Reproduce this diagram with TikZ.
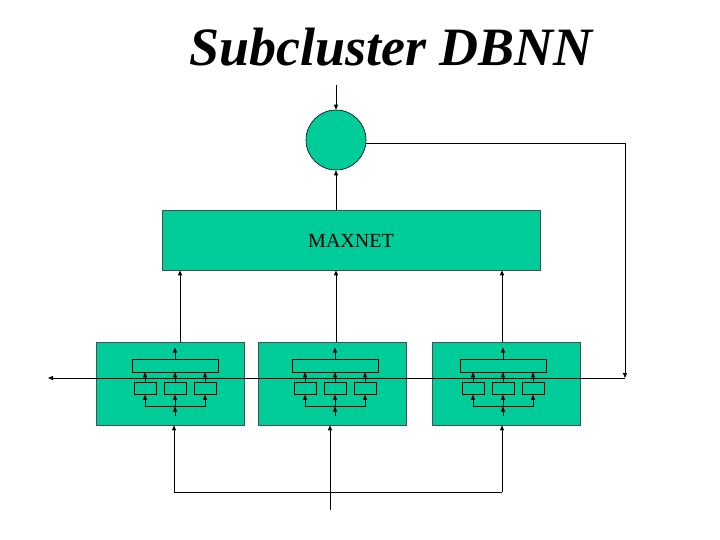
\documentclass[tikz,border=0pt]{standalone}
\usepackage{fontspec}
\setmainfont{Liberation Serif}
\usetikzlibrary{arrows.meta}
\definecolor{tg}{HTML}{00CC99}
\begin{document}
\begin{tikzpicture}[x=1pt,y=-1pt,
  ar/.style={-{Triangle[length=5pt,width=4pt]},line width=0.8pt},
  big/.style={draw=black!70,fill=tg,line width=0.6pt,inner sep=0pt},
  sm/.style={draw=black,line width=0.6pt,inner sep=0pt},
  pics/unit/.style={code={
    \node[sm,minimum width=86pt,minimum height=13pt] (-w) at (0,-18) {};
    \foreach \i/\dx in {a/-30,b/0,c/30}{
      \node[sm,minimum width=22pt,minimum height=12pt] (-\i) at (\dx,5) {};
      \draw[ar] (-\i.north) -- (-\i.north |- -w.south);
      \coordinate (-bus\i) at (\dx,23);
      \draw[ar] (-bus\i) -- (-\i.south);
    }
    \draw[line width=0.8pt] (-busa) -- (-busc);
    \coordinate (-in) at (0,32);
    \coordinate (-top) at (0,-36);
    \draw[ar] (-in) -- (-busb);
    \draw[ar] (-w.north) -- (-top);
  }}]
\useasboundingbox (0,0) rectangle (720,540);
\node[font=\bfseries\itshape\fontsize{54}{60}\selectfont] (title) at (391,47) {Subcluster DBNN};
\node[big,draw=black,circle,minimum size=60pt] (c) at (336,140) {};
\node[big,minimum width=378pt,minimum height=60pt] (mx) at (351,240) {};
\node[font=\fontsize{20}{22}\selectfont] (mt) at (351,241) {MAXNET};
\node[big,minimum width=148pt,minimum height=83pt] (b1) at (170,383.5) {};
\node[big,minimum width=148pt,minimum height=83pt] (b2) at (332,383.5) {};
\node[big,minimum width=148pt,minimum height=83pt] (b3) at (506,383.5) {};
\pic (u1) at (175,383.5) {unit};
\pic (u2) at (335,383.5) {unit};
\pic (u3) at (503,383.5) {unit};
% horizontal bus
\coordinate (rr) at (625,378);
\coordinate (ll) at (48,378);
\draw[ar] (rr) -- (ll);
\coordinate (rt) at (625,143);
\draw[line width=0.8pt] (c.east |- rt) -- (rt);
\draw[ar] (rt) -- (rr);
% to maxnet
\foreach \b/\x in {b1/180,b2/336,b3/502}
  \draw[ar] (\b.north -| {(\x,0)}) -- (mx.south -| {(\x,0)});
\draw[ar] (mx.north -| c) -- (c.south);
\coordinate (tin) at (336,85);
\draw[ar] (tin) -- (c.north);
% bottom inputs
\coordinate (bl) at (174,492);
\coordinate (br) at (502,492);
\coordinate (bm) at (330,492);
\coordinate (bin) at (330,510);
\draw[line width=0.8pt] (bl) -- (br);
\draw[line width=0.8pt] (bin) -- (bm);
\draw[ar] (bl) -- (bl |- b1.south);
\draw[ar] (bm) -- (bm |- b2.south);
\draw[ar] (br) -- (br |- b3.south);
\end{tikzpicture}
\end{document}
